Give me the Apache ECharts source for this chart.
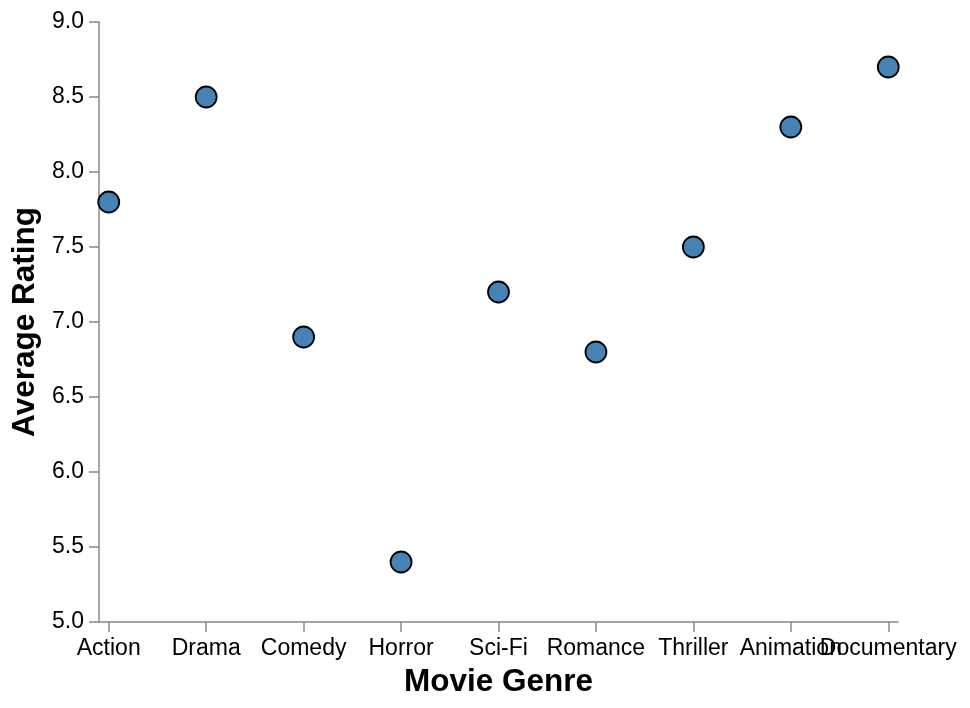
<!DOCTYPE html>
<html>
<head>
<meta charset="utf-8">
<script src="https://cdn.jsdelivr.net/npm/echarts@6/dist/echarts.min.js"></script>
<style>
  html, body { margin: 0; padding: 0; background: #fff; }
  #chart { width: 970px; height: 708px; }
</style>
</head>
<body>
<div id="chart"></div>
<script>
const genres = ["Action", "Drama", "Comedy", "Horror", "Sci-Fi", "Romance", "Thriller", "Animation", "Documentary"];
const ratings = [7.8, 8.5, 6.9, 5.4, 7.2, 6.8, 7.5, 8.3, 8.7];
const yTicks = [5.0, 5.5, 6.0, 6.5, 7.0, 7.5, 8.0, 8.5, 9.0];

const FONT = '"Liberation Sans", Arial, Helvetica, sans-serif';
const AXIS_COLOR = '#888888';
const positions = genres.map((g, i) => i);
const evenPos = positions.filter(i => i % 2 === 0);
const oddPos = positions.filter(i => i % 2 === 1);
const points = genres.map((g, i) => [i, ratings[i]]);

const labelStyle = {
  margin: 15,
  fontFamily: FONT, fontSize: 23, color: '#000',
  hideOverlap: false,
  showMinLabel: true,
  showMaxLabel: true,
  formatter: v => genres[Math.round(v)]
};

const chart = echarts.init(document.getElementById('chart'), null, { renderer: 'canvas' });
chart.setOption({
  backgroundColor: '#ffffff',
  animation: false,
  grid: { left: 99, right: 72, top: 22, bottom: 86, containLabel: false },
  xAxis: [{
    type: 'value',
    position: 'bottom',
    min: -0.1,
    max: 8.1,
    name: 'Movie Genre',
    nameLocation: 'middle',
    nameGap: 44,
    nameTextStyle: { fontFamily: FONT, fontSize: 31.5, fontWeight: 'bold', color: '#000' },
    axisLine: { show: true, onZero: false, lineStyle: { color: AXIS_COLOR, width: 1.5 } },
    axisTick: { show: true, length: 10, customValues: positions, lineStyle: { color: AXIS_COLOR, width: 1.5 } },
    axisLabel: Object.assign({}, labelStyle, { customValues: evenPos }),
    splitLine: { show: false }
  }, {
    type: 'value',
    position: 'bottom',
    offset: 0,
    min: -0.1,
    max: 8.1,
    axisLine: { show: false, onZero: false },
    axisTick: { show: false },
    axisLabel: Object.assign({}, labelStyle, { customValues: oddPos }),
    splitLine: { show: false }
  }],
  yAxis: {
    type: 'value',
    min: yTicks[0],
    max: yTicks[yTicks.length - 1],
    interval: 0.5,
    name: 'Average Rating',
    nameLocation: 'middle',
    nameGap: 56,
    nameRotate: 90,
    nameTextStyle: { fontFamily: FONT, fontSize: 31.5, fontWeight: 'bold', color: '#000' },
    axisLine: { show: true, onZero: false, lineStyle: { color: AXIS_COLOR, width: 1.5 } },
    axisTick: { show: true, length: 10, lineStyle: { color: AXIS_COLOR, width: 1.5 } },
    axisLabel: {
      margin: 15,
      fontFamily: FONT, fontSize: 23, color: '#000',
      formatter: v => v.toFixed(1)
    },
    splitLine: { show: false }
  },
  series: [{
    type: 'scatter',
    xAxisIndex: 0,
    data: points,
    symbol: 'circle',
    symbolSize: 21,
    itemStyle: { color: '#4682b4', borderColor: '#000', borderWidth: 1.8, opacity: 1 }
  }]
});
</script>
</body>
</html>
